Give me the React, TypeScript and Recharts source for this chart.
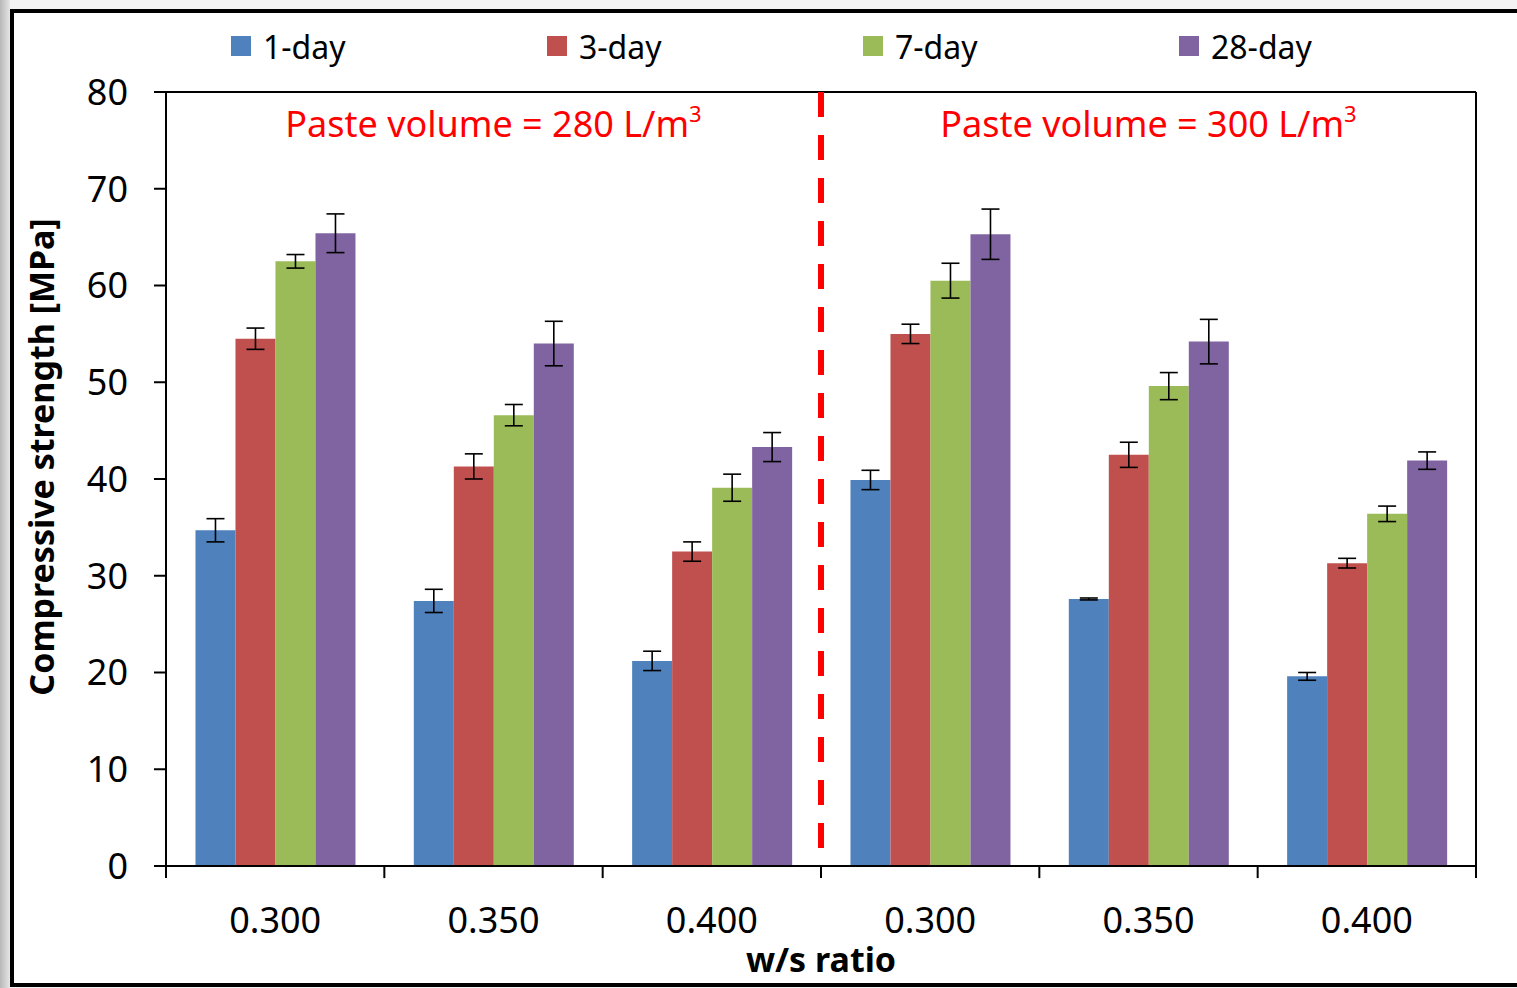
import {
  Bar,
  BarChart,
  ErrorBar,
  ReferenceArea,
  ReferenceLine,
  XAxis,
  YAxis,
} from "recharts";

// w/s ratio categories (two paste volumes, three ratios each)
const KEYS = ["g1", "g2", "g3", "g4", "g5", "g6"];
const RATIOS = ["0.300", "0.350", "0.400", "0.300", "0.350", "0.400"];

// compressive strength [MPa] and error (±)
const DAY1 = [34.7, 27.4, 21.2, 39.9, 27.6, 19.6];
const DAY3 = [54.5, 41.3, 32.5, 55.0, 42.5, 31.3];
const DAY7 = [62.5, 46.6, 39.1, 60.5, 49.6, 36.4];
const DAY28 = [65.4, 54.0, 43.3, 65.3, 54.2, 41.9];
const ERR1 = [1.2, 1.2, 1.0, 1.0, 0.1, 0.4];
const ERR3 = [1.1, 1.3, 1.0, 1.0, 1.3, 0.5];
const ERR7 = [0.7, 1.1, 1.4, 1.8, 1.4, 0.8];
const ERR28 = [2.0, 2.3, 1.5, 2.6, 2.3, 0.9];

const Y_TICKS = [0, 10, 20, 30, 40, 50, 60, 70, 80];

const SERIES = [
  { key: "d1", name: "1-day", color: "#4F81BD", values: DAY1, errors: ERR1 },
  { key: "d3", name: "3-day", color: "#C0504D", values: DAY3, errors: ERR3 },
  { key: "d7", name: "7-day", color: "#9BBB59", values: DAY7, errors: ERR7 },
  { key: "d28", name: "28-day", color: "#8064A2", values: DAY28, errors: ERR28 },
];

const PASTE = [
  { from: "g1", to: "g3", label: "Paste volume = 280 L/m" },
  { from: "g4", to: "g6", label: "Paste volume = 300 L/m" },
];

const data = KEYS.map((k, i) => {
  const row: Record<string, string | number> = { key: k, ratio: RATIOS[i] };
  SERIES.forEach((s) => {
    row[s.key] = s.values[i];
    row[s.key + "Err"] = s.errors[i];
  });
  return row;
});

const FONT = "'Noto Sans', sans-serif";

function pasteLabel(text: string) {
  return (props: any) => {
    const vb = props.viewBox || {};
    return (
      <text
        x={vb.x + vb.width / 2}
        y={vb.y + 45}
        textAnchor="middle"
        fill="#ff0000"
        fontSize={36}
        fontFamily={FONT}
      >
        {text}
        <tspan dy={-15} fontSize={22}>
          3
        </tspan>
      </text>
    );
  };
}

export default function App() {
  return (
    <div
      style={{
        position: "absolute",
        left: 0,
        top: 0,
        width: 1517,
        height: 988,
        overflow: "hidden",
        background: "linear-gradient(to right, #b8b8b8 0px, #e6e6e6 10px, #f3f3f3 10px)",
        fontFamily: FONT,
      }}
    >
      <div
        style={{
          position: "absolute",
          left: 10,
          top: 9,
          width: 1540,
          height: 978,
          boxSizing: "border-box",
          border: "4px solid #000",
          background: "#fff",
        }}
      />

      {/* legend */}
      {SERIES.map((s, i) => (
        <div
          key={s.key}
          style={{
            position: "absolute",
            left: 231 + i * 316,
            top: 26,
            height: 40,
            display: "flex",
            alignItems: "center",
            fontSize: 32,
            color: "#000",
          }}
        >
          <span
            style={{
              display: "inline-block",
              width: 20,
              height: 20,
              background: s.color,
              marginRight: 12,
            }}
          />
          {s.name}
        </div>
      ))}

      <div style={{ position: "absolute", left: 0, top: 0 }}>
        <BarChart
          width={1517}
          height={988}
          data={data}
          margin={{ top: 92, right: 41, left: 0, bottom: 0 }}
          barCategoryGap="13.5%"
          barGap={0}
        >
          <XAxis
            dataKey="key"
            height={122}
            tickFormatter={(k: string) => RATIOS[KEYS.indexOf(k)]}
            tick={{ fill: "#000", fontSize: 36 }}
            tickLine={false}
            tickSize={12}
            tickMargin={29}
            axisLine={{ stroke: "#000", strokeWidth: 2 }}
            interval={0}
            label={{
              value: "w/s ratio",
              position: "insideBottom",
              offset: 16,
              fill: "#000",
              fontSize: 34,
              fontWeight: 700,
            }}
          />
          <YAxis
            width={166}
            domain={[0, 80]}
            ticks={Y_TICKS}
            interval={0}
            tick={{ fill: "#000", fontSize: 36 }}
            tickSize={12}
            tickMargin={26}
            tickLine={{ stroke: "#000", strokeWidth: 2 }}
            axisLine={{ stroke: "#000", strokeWidth: 2 }}
            label={{
              content: () => (
                <text
                  x={0}
                  y={0}
                  transform="translate(54 457) rotate(-90)"
                  textAnchor="middle"
                  fill="#000"
                  fontSize={34}
                  fontWeight={700}
                  fontFamily={FONT}
                >
                  Compressive strength [MPa]
                </text>
              ),
            }}
          />

          {SERIES.map((s) => (
            <Bar key={s.key} dataKey={s.key} name={s.name} fill={s.color} isAnimationActive={false}>
              <ErrorBar
                dataKey={s.key + "Err"}
                width={9}
                stroke="#000"
                strokeWidth={1.6}
                direction="y"
              />
            </Bar>
          ))}

          {PASTE.map((p) => (
            <ReferenceArea
              key={p.from}
              x1={p.from}
              x2={p.to}
              y1={0}
              y2={80}
              fill="none"
              stroke="none"
              label={pasteLabel(p.label)}
            />
          ))}

          {/* plot frame: top and right edges */}
          <ReferenceLine y={80} stroke="#000" strokeWidth={2} />
          <ReferenceLine x="g6" position="end" stroke="#000" strokeWidth={2} />

          {/* x tick marks sit between categories */}
          {KEYS.map((k) => (
            <ReferenceLine
              key={"t" + k}
              segment={[
                { x: k, y: 0 },
                { x: k, y: -1.25 },
              ]}
              position="start"
              ifOverflow="visible"
              stroke="#000"
              strokeWidth={2}
            />
          ))}
          <ReferenceLine
            segment={[
              { x: "g6", y: 0 },
              { x: "g6", y: -1.25 },
            ]}
            position="end"
            ifOverflow="visible"
            stroke="#000"
            strokeWidth={2}
          />

          {/* split between the two paste volumes, dashes start at the top */}
          <ReferenceLine
            segment={[
              { x: "g4", y: 80 },
              { x: "g4", y: 0 },
            ]}
            position="start"
            stroke="#ff0000"
            strokeWidth={6}
            strokeDasharray="25 18"
          />
        </BarChart>
      </div>
    </div>
  );
}
